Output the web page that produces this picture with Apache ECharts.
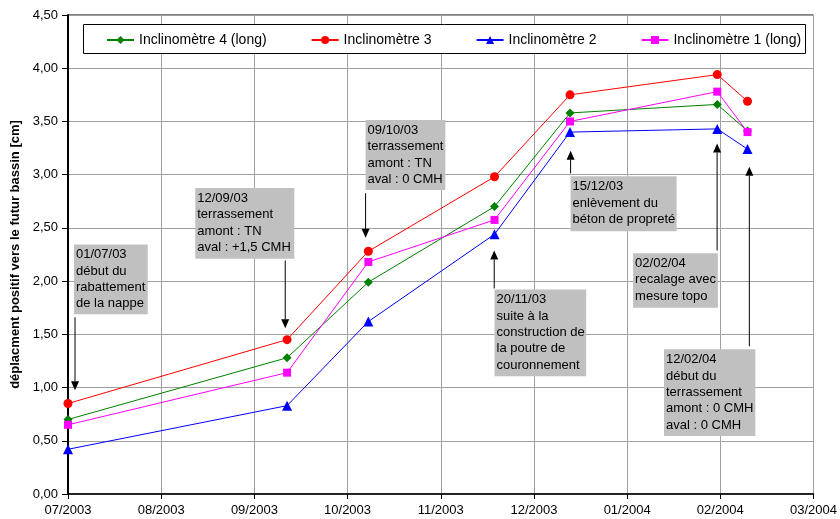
<!DOCTYPE html>
<html><head><meta charset="utf-8">
<script src="https://cdn.jsdelivr.net/npm/echarts@6/dist/echarts.min.js"></script>
<style>html,body{margin:0;padding:0;background:#fff}#c{width:840px;height:519px}</style>
</head><body><div id="c"></div>
<script>
// x tick labels (axis ticks every 30.5 days starting 01/07/2003)
const xTickLabels = ['07/2003','08/2003','09/2003','10/2003','11/2003','12/2003','01/2004','02/2004','03/2004'];
// measurement dates, in days since 01/07/2003
const measureDays = [0, 71.7, 98.3, 139.6, 164.3, 212.5, 222.4];
const seriesNames = ['Inclinomètre 4 (long)', 'Inclinomètre 3', 'Inclinomètre 2', 'Inclinomètre 1 (long)'];
const incl4 = [0.70, 1.28, 1.99, 2.70, 3.58, 3.66, 3.41];
const incl3 = [0.85, 1.45, 2.28, 2.98, 3.75, 3.94, 3.69];
const incl2 = [0.42, 0.83, 1.62, 2.44, 3.40, 3.43, 3.24];
const incl1 = [0.65, 1.14, 2.18, 2.575, 3.50, 3.78, 3.40];
const yAxisTitle = 'déplacment positif vers le futur bassin [cm]';
// annotation texts, with anchors in data units: box [dayLeft, valTop, dayRight, valBottom], arrow [day, valFrom, valTip]
const annTexts = [
  '01/07/03\ndébut du\nrabattement\nde la nappe',
  '12/09/03\nterrassement\namont : TN\naval : +1,5 CMH',
  '09/10/03\nterrassement\namont : TN\naval : 0 CMH',
  '20/11/03\nsuite à la\nconstruction de\nla poutre de\ncouronnement',
  '15/12/03\nenlèvement du\nbéton de propreté',
  '02/02/04\nrecalage avec\nmesure topo',
  '12/02/04\ndébut du\nterrassement\namont : 0 CMH\naval : 0 CMH'
];
const annBoxes = [
  [1.96, 2.344, 26.1, 1.688],
  [41.65, 2.875, 74.07, 2.209],
  [97.4, 3.513, 123.5, 2.857],
  [139.6, 1.922, 169.6, 1.106],
  [164.5, 2.984, 199.2, 2.468],
  [184.96, 2.262, 212.7, 1.750],
  [195.06, 1.359, 224.97, 0.544]
];
const annArrows = [
  [2.3, 1.66, 0.975],
  [71.1, 2.194, 1.556],
  [97.4, 2.825, 2.407],
  [139.5, 1.931, 2.2875],
  [164.5, 3.012, 3.225],
  [212.45, 2.2875, 3.293],
  [223.0, 1.3875, 3.075]
];

const FONT = '"Liberation Sans", Arial, sans-serif';
const chart = echarts.init(document.getElementById('c'), null, {renderer: 'canvas'});
const allSeries = [incl4, incl3, incl2, incl1];
const colors = ['#008000', '#ff0000', '#0000ff', '#ff00ff'];
const symbols = ['diamond', 'circle', 'triangle', 'rect'];
const symSizes = [9, 9, 10, 8];

const option = {
  animation: false,
  backgroundColor: '#fff',
  grid: {left: 68, right: 24, top: 15, bottom: 25, show: true, borderColor: '#000', borderWidth: 1, backgroundColor: 'transparent'},
  legend: {
    data: seriesNames, left: 106, top: 33, itemWidth: 27, itemHeight: 10, itemGap: 44, padding: 0, z: 10,
    textStyle: {fontFamily: FONT, fontSize: 14, color: '#000'}
  },
  xAxis: {
    type: 'value', min: 0, max: 244, interval: 30.5,
    axisLine: {show: true, lineStyle: {color: '#000', width: 1.5}},
    axisTick: {show: true, length: 5, lineStyle: {color: '#000'}},
    splitLine: {show: true, lineStyle: {color: '#a0a0a0', width: 1}},
    axisLabel: {
      margin: 10, fontFamily: FONT, fontSize: 13, color: '#000', showMaxLabel: true, showMinLabel: true,
      formatter: v => xTickLabels[Math.round(v / 30.5)] || ''
    }
  },
  yAxis: {
    type: 'value', min: 0, max: 4.5, interval: 0.5,
    name: yAxisTitle, nameLocation: 'middle', nameRotate: 90, nameGap: 43,
    nameTextStyle: {fontFamily: FONT, fontSize: 13, fontWeight: 'bold', color: '#000'},
    axisLine: {show: true, lineStyle: {color: '#000', width: 2}},
    axisTick: {show: true, length: 6, lineStyle: {color: '#000'}},
    splitLine: {show: true, lineStyle: {color: '#a0a0a0', width: 1}},
    axisLabel: {margin: 10, fontFamily: FONT, fontSize: 13, color: '#000', formatter: v => v.toFixed(2).replace('.', ',')}
  },
  series: allSeries.map((vals, i) => ({
    name: seriesNames[i], type: 'line',
    data: vals.map((v, j) => [measureDays[j], v]),
    symbol: symbols[i], symbolSize: symSizes[i], showSymbol: true,
    lineStyle: {color: colors[i], width: 1},
    itemStyle: {color: colors[i], borderWidth: 0},
    emphasis: {disabled: true}, z: 3 + i
  }))
};
chart.setOption(option);

const P = (d, v) => chart.convertToPixel({gridIndex: 0}, [d, v]);
const graphics = [];
// legend frame
graphics.push({type: 'rect', z: 5, shape: {x: 83.5, y: 24.5, width: 722, height: 29}, style: {fill: '#fff', stroke: '#000', lineWidth: 1}});
annTexts.forEach((t, i) => {
  const b = annBoxes[i];
  const tl = P(b[0], b[1]), br = P(b[2], b[3]);
  graphics.push({type: 'rect', z: 20, shape: {x: tl[0], y: tl[1], width: br[0] - tl[0], height: br[1] - tl[1]}, style: {fill: '#c0c0c0'}});
  graphics.push({type: 'text', z: 21, x: tl[0] + 2, y: tl[1] + 2, style: {text: t, font: '13px ' + FONT, fill: '#000', lineHeight: 16.4, verticalAlign: 'top', align: 'left'}});
  const a = annArrows[i];
  const from = P(a[0], a[1]), tip = P(a[0], a[2]);
  const dir = tip[1] > from[1] ? 1 : -1;
  const hl = 9, hw = 4;
  graphics.push({type: 'line', z: 20, shape: {x1: from[0], y1: from[1], x2: tip[0], y2: tip[1] - dir * hl}, style: {stroke: '#000', lineWidth: 1}});
  graphics.push({type: 'polygon', z: 20, shape: {points: [[tip[0], tip[1]], [tip[0] - hw, tip[1] - dir * hl], [tip[0] + hw, tip[1] - dir * hl]]}, style: {fill: '#000'}});
});
chart.setOption({graphic: graphics});
</script></body></html>
